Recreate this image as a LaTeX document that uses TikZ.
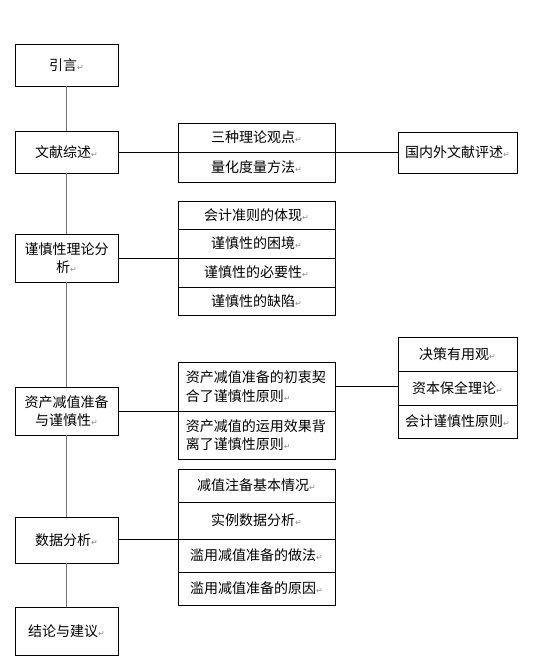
\documentclass[tikz,border=0pt]{standalone}
\usepackage{fontspec}
\newfontfamily\cjk{Noto Sans CJK SC}
\newfontfamily\symb{DejaVu Sans}
\newcommand{\parmark}{{\symb\fontsize{6}{6}\selectfont\color{black!45}↵}}
\tikzset{
	box/.style={draw, line width=0.75pt, inner sep=0pt, outer sep=0pt, anchor=north west,
		font=\cjk\fontsize{10.5}{14}\selectfont, align=center},
	twoline/.style={align=left, text width=106pt},
	spine/.style={draw=black!55, line width=1.2pt},
	link/.style={draw, line width=0.75pt},
}
% cell(name)[x,y,w,h]{text}, all in pixels of the reference
\def\cell(#1)[#2,#3,#4,#5]#6{\node[box, minimum width=#4*0.75pt, minimum height=#5*0.75pt] (#1) at (#2,#3) {#6};}
\def\cellL(#1)[#2,#3,#4,#5]#6{\node[box, twoline, minimum width=#4*0.75pt, minimum height=#5*0.75pt] (#1) at (#2,#3) {#6};}

\begin{document}
\begin{tikzpicture}[x=0.75pt, y=-0.75pt]
		%%%%% START %%%%%
		\useasboundingbox (0,0) rectangle (545,672);
		
		% left column
		\cell(intro)[15,44,103,42]{引言\parmark}
		\cell(review)[15,131,103,42]{文献综述\parmark}
		\cell(theory)[15,234,103,48]{谨慎性理论分\\析\parmark}
		\cell(impair)[15,387,103,48]{资产减值准备\\与谨慎性\parmark}
		\cell(data)[15,517,103,46]{数据分析\parmark}
		\cell(concl)[15,607,103,48]{结论与建议\parmark}
		
		% middle column
		\cell(viewA)[178,123,157,29]{三种理论观点\parmark}
		\cell(viewB)[178,152,157,30]{量化度量方法\parmark}
		
		\cell(thA)[178,201,157,28]{会计准则的体现\parmark}
		\cell(thB)[178,229,157,29]{谨慎性的困境\parmark}
		\cell(thC)[178,258,157,29]{谨慎性的必要性\parmark}
		\cell(thD)[178,287,157,28]{谨慎性的缺陷\parmark}
		
		\cellL(impA)[178,362,157,49]{资产减值准备的初衷契\\合了谨慎性原则\parmark}
		\cellL(impB)[178,411,157,48]{资产减值的运用效果背\\离了谨慎性原则\parmark}
		
		\cell(dataA)[178,469,157,33]{减值注备基本情况\parmark}
		\cell(dataB)[178,502,157,37]{实例数据分析\parmark}
		\cell(dataC)[178,539,157,33]{滥用减值准备的做法\parmark}
		\cell(dataD)[178,572,157,33]{滥用减值准备的原因\parmark}
		
		% right column
		\cell(lit)[398,132,119,41]{国内外文献评述\parmark}
		
		\cell(prA)[398,337,119,34]{决策有用观\parmark}
		\cell(prB)[398,371,119,34]{资本保全理论\parmark}
		\cell(prC)[398,405,119,33]{会计谨慎性原则\parmark}
		
		% spine
		\draw[spine] (intro) -- (review);
		\draw[spine] (review) -- (theory);
		\draw[spine] (theory) -- (impair);
		\draw[spine] (impair) -- (data);
		\draw[spine] (data) -- (concl);
		
		% branches
		\draw[link] (review.east) -- (viewA.south west);
		\draw[link] (viewA.south east) -- (lit.west |- viewA.south east);
		\draw[link] (theory.east) -- (thB.south west);
		\draw[link] (impair.east) -- (impA.south west);
		\draw[link] (impA.east) -- (impA.east -| prB.west);
		\draw[link] (data.east |- dataB.south west) -- (dataB.south west);
		
		%%%%% END %%%%%
	\end{tikzpicture}
\end{document}
